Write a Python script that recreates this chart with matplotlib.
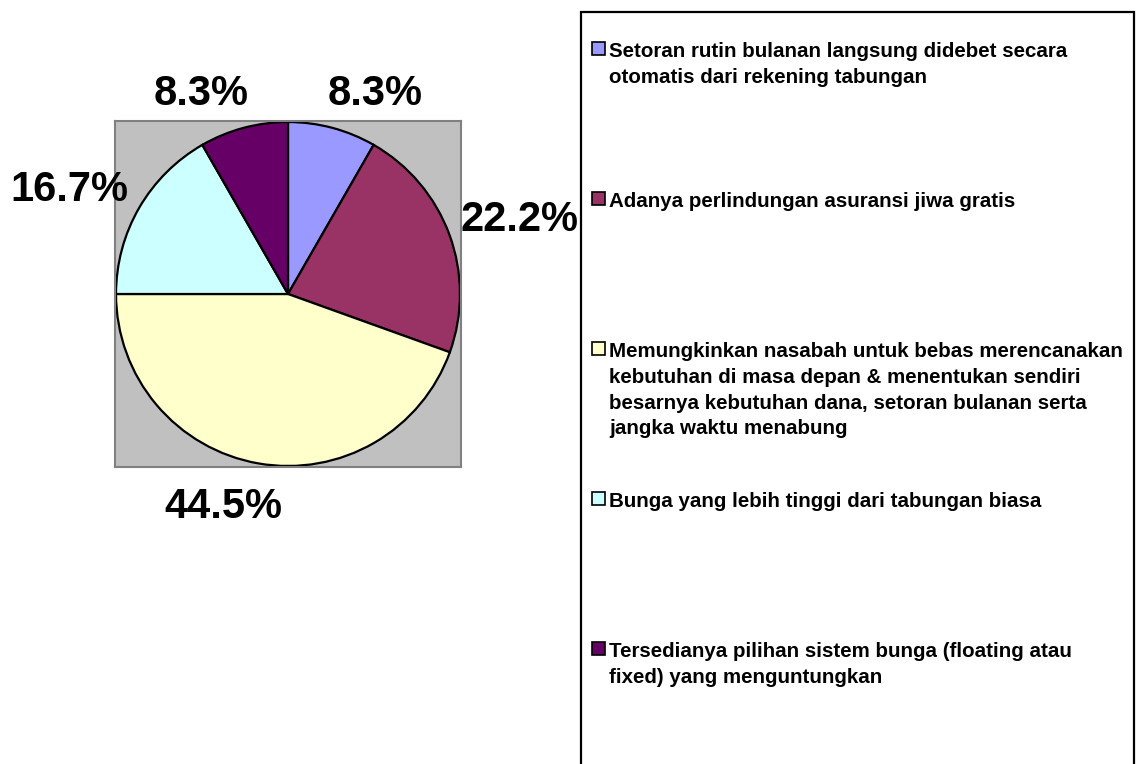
import numpy as np
import matplotlib
matplotlib.use("Agg")
import matplotlib.pyplot as plt
from matplotlib.patches import Rectangle

W, H = 1140, 764

shares = [8.3, 22.2, 44.5, 16.7, 8.3]
pct_labels = ["8.3%", "22.2%", "44.5%", "16.7%", "8.3%"]
colors = ["#9999FF", "#993366", "#FFFFCC", "#CCFFFF", "#660066"]
legend_labels = [
    "Setoran rutin bulanan langsung didebet secara\notomatis dari rekening tabungan",
    "Adanya perlindungan asuransi jiwa gratis",
    "Memungkinkan nasabah untuk bebas merencanakan\nkebutuhan di masa depan & menentukan sendiri\n"
    "besarnya kebutuhan dana, setoran bulanan serta\njangka waktu menabung",
    "Bunga yang lebih tinggi dari tabungan biasa",
    "Tersedianya pilihan sistem bunga (floating atau\nfixed) yang menguntungkan",
]

plt.rcParams["font.family"] = ["Liberation Sans", "DejaVu Sans"]
plt.rcParams["font.weight"] = "bold"


def px_rect(x0, y0, x1, y1):
    # pixel box with origin top-left -> figure fraction rect
    return [x0 / W, 1 - y1 / H, (x1 - x0) / W, (y1 - y0) / H]


fig = plt.figure(figsize=(W / 100, H / 100), dpi=100)
fig.patch.set_facecolor("white")

# pie on grey plot area
ax = fig.add_axes(px_rect(115, 121, 461, 467))
ax.set_facecolor("#C0C0C0")
wedges, _ = ax.pie(shares, colors=colors, startangle=90, counterclock=False,
                   radius=1, frame=True,
                   wedgeprops=dict(edgecolor="black", linewidth=1.6))
lim = 1.006
ax.set_xlim(-lim, lim)
ax.set_ylim(-lim, lim)
ax.set_xticks([])
ax.set_yticks([])
for s in ax.spines.values():
    s.set_color("#808080")
    s.set_linewidth(1.5)

# percentage labels outside the slices (Excel-like placement)
renderer = fig.canvas.get_renderer()
label_size = 30
cap = 0.716 * label_size * 100 / 72
for w, lbl in zip(wedges, pct_labels):
    theta = np.deg2rad((w.theta1 + w.theta2) / 2)
    c, s = np.cos(theta), np.sin(theta)
    d = 1.07 + 0.08 * s ** 4
    t = ax.annotate(lbl, xy=(d * c, d * s), xycoords="data",
                    xytext=(0, 0), textcoords="offset pixels",
                    ha="center", va="baseline", fontsize=label_size,
                    fontweight="bold", annotation_clip=False)
    tw = t.get_window_extent(renderer).width
    dx = tw / 2 * np.clip(3 * c, -1, 1)
    dy = cap / 2 * np.sign(s)
    t.xyann = (dx, dy - cap / 2)

# legend box (runs past the bottom edge like the original)
fig.add_artist(Rectangle((581 / W, 1 - 800 / H), (1134 - 581) / W, (800 - 12) / H,
                         transform=fig.transFigure, fill=False,
                         edgecolor="black", linewidth=1.6, clip_on=False))

for i, (lab, col) in enumerate(zip(legend_labels, colors)):
    y_top = 42 + i * 150
    fig.add_artist(Rectangle((592 / W, 1 - (y_top + 13) / H), 13 / W, 13 / H,
                             transform=fig.transFigure, facecolor=col,
                             edgecolor="black", linewidth=1.2))
    fig.text(609 / W, 1 - y_top / H, lab, ha="left", va="top",
             fontsize=14.8, fontweight="bold", linespacing=1.45)

fig.savefig("out.png", dpi=100)
